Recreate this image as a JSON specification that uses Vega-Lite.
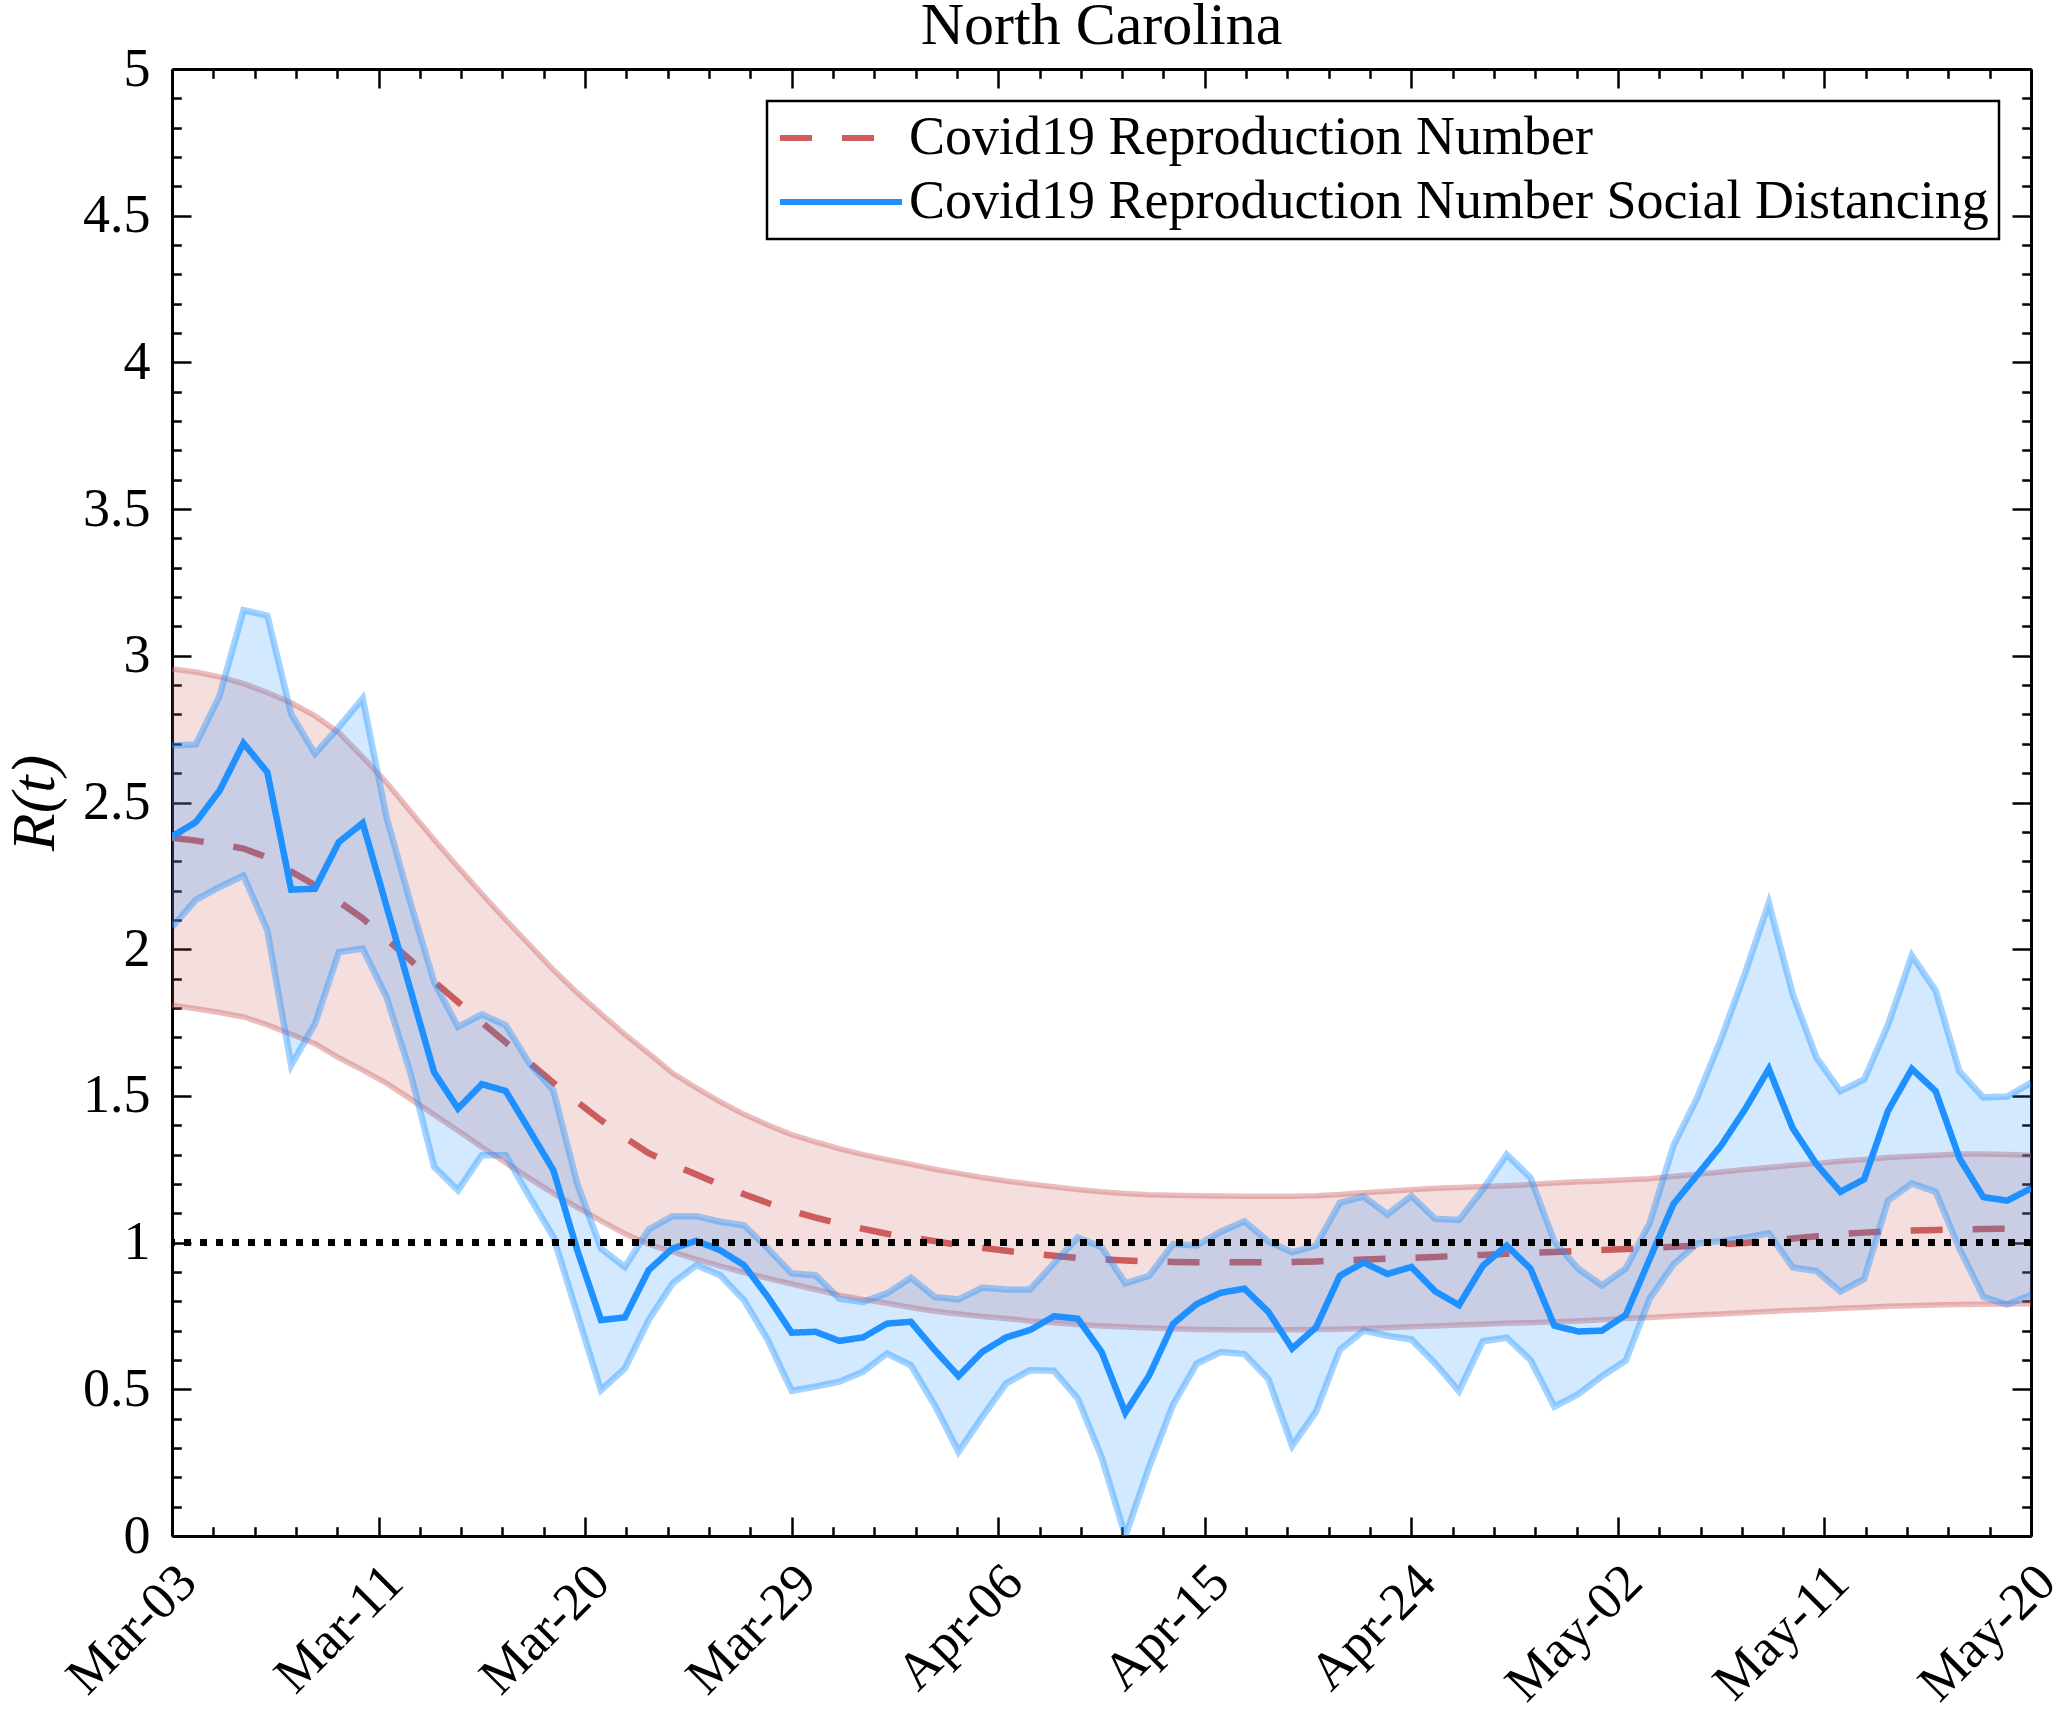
{
  "$schema": "https://vega.github.io/schema/vega-lite/v6.json",
  "width": 1859,
  "height": 1467,
  "autosize": {"type": "none"},
  "padding": {"left": 172, "top": 69, "right": 28, "bottom": 181},
  "background": "white",
  "title": {"text": "North Carolina", "font": "Liberation Serif", "fontSize": 60, "fontWeight": "normal", "color": "black", "anchor": "middle", "offset": -15},
  "data": {"values": [
    {"date": "2020-03-03", "r": 2.38, "r_lo": 1.809, "r_hi": 2.955, "sd": 2.384, "sd_lo": 2.075, "sd_hi": 2.694},
    {"date": "2020-03-04", "r": 2.37, "r_lo": 1.797, "r_hi": 2.945, "sd": 2.433, "sd_lo": 2.168, "sd_hi": 2.698},
    {"date": "2020-03-05", "r": 2.357, "r_lo": 1.784, "r_hi": 2.928, "sd": 2.541, "sd_lo": 2.212, "sd_hi": 2.864},
    {"date": "2020-03-06", "r": 2.343, "r_lo": 1.769, "r_hi": 2.905, "sd": 2.702, "sd_lo": 2.251, "sd_hi": 3.156},
    {"date": "2020-03-07", "r": 2.313, "r_lo": 1.742, "r_hi": 2.875, "sd": 2.603, "sd_lo": 2.064, "sd_hi": 3.137},
    {"date": "2020-03-08", "r": 2.265, "r_lo": 1.71, "r_hi": 2.84, "sd": 2.203, "sd_lo": 1.604, "sd_hi": 2.802},
    {"date": "2020-03-09", "r": 2.218, "r_lo": 1.678, "r_hi": 2.795, "sd": 2.206, "sd_lo": 1.746, "sd_hi": 2.666},
    {"date": "2020-03-10", "r": 2.162, "r_lo": 1.63, "r_hi": 2.738, "sd": 2.365, "sd_lo": 1.99, "sd_hi": 2.757},
    {"date": "2020-03-11", "r": 2.105, "r_lo": 1.588, "r_hi": 2.655, "sd": 2.43, "sd_lo": 2.002, "sd_hi": 2.855},
    {"date": "2020-03-12", "r": 2.035, "r_lo": 1.543, "r_hi": 2.568, "sd": 2.147, "sd_lo": 1.837, "sd_hi": 2.45},
    {"date": "2020-03-13", "r": 1.963, "r_lo": 1.49, "r_hi": 2.47, "sd": 1.863, "sd_lo": 1.58, "sd_hi": 2.16},
    {"date": "2020-03-14", "r": 1.89, "r_lo": 1.436, "r_hi": 2.373, "sd": 1.58, "sd_lo": 1.258, "sd_hi": 1.888},
    {"date": "2020-03-15", "r": 1.82, "r_lo": 1.381, "r_hi": 2.28, "sd": 1.457, "sd_lo": 1.178, "sd_hi": 1.735},
    {"date": "2020-03-16", "r": 1.75, "r_lo": 1.326, "r_hi": 2.189, "sd": 1.54, "sd_lo": 1.298, "sd_hi": 1.778},
    {"date": "2020-03-17", "r": 1.683, "r_lo": 1.272, "r_hi": 2.1, "sd": 1.517, "sd_lo": 1.298, "sd_hi": 1.741},
    {"date": "2020-03-18", "r": 1.613, "r_lo": 1.219, "r_hi": 2.015, "sd": 1.383, "sd_lo": 1.156, "sd_hi": 1.61},
    {"date": "2020-03-19", "r": 1.545, "r_lo": 1.168, "r_hi": 1.93, "sd": 1.247, "sd_lo": 1.02, "sd_hi": 1.519},
    {"date": "2020-03-20", "r": 1.48, "r_lo": 1.12, "r_hi": 1.852, "sd": 0.975, "sd_lo": 0.758, "sd_hi": 1.201},
    {"date": "2020-03-21", "r": 1.417, "r_lo": 1.074, "r_hi": 1.78, "sd": 0.736, "sd_lo": 0.497, "sd_hi": 0.98},
    {"date": "2020-03-22", "r": 1.358, "r_lo": 1.03, "r_hi": 1.71, "sd": 0.745, "sd_lo": 0.571, "sd_hi": 0.917},
    {"date": "2020-03-23", "r": 1.305, "r_lo": 0.995, "r_hi": 1.645, "sd": 0.906, "sd_lo": 0.736, "sd_hi": 1.045},
    {"date": "2020-03-24", "r": 1.267, "r_lo": 0.968, "r_hi": 1.578, "sd": 0.98, "sd_lo": 0.861, "sd_hi": 1.09},
    {"date": "2020-03-25", "r": 1.232, "r_lo": 0.943, "r_hi": 1.527, "sd": 1.006, "sd_lo": 0.923, "sd_hi": 1.09},
    {"date": "2020-03-26", "r": 1.198, "r_lo": 0.92, "r_hi": 1.48, "sd": 0.974, "sd_lo": 0.889, "sd_hi": 1.071},
    {"date": "2020-03-27", "r": 1.165, "r_lo": 0.898, "r_hi": 1.437, "sd": 0.923, "sd_lo": 0.804, "sd_hi": 1.059},
    {"date": "2020-03-28", "r": 1.135, "r_lo": 0.878, "r_hi": 1.401, "sd": 0.815, "sd_lo": 0.668, "sd_hi": 0.98},
    {"date": "2020-03-29", "r": 1.108, "r_lo": 0.859, "r_hi": 1.368, "sd": 0.693, "sd_lo": 0.495, "sd_hi": 0.895},
    {"date": "2020-03-30", "r": 1.085, "r_lo": 0.84, "r_hi": 1.343, "sd": 0.696, "sd_lo": 0.509, "sd_hi": 0.889},
    {"date": "2020-03-31", "r": 1.065, "r_lo": 0.821, "r_hi": 1.32, "sd": 0.665, "sd_lo": 0.526, "sd_hi": 0.809},
    {"date": "2020-04-01", "r": 1.047, "r_lo": 0.806, "r_hi": 1.3, "sd": 0.677, "sd_lo": 0.56, "sd_hi": 0.798},
    {"date": "2020-04-02", "r": 1.03, "r_lo": 0.793, "r_hi": 1.283, "sd": 0.724, "sd_lo": 0.622, "sd_hi": 0.827},
    {"date": "2020-04-03", "r": 1.017, "r_lo": 0.779, "r_hi": 1.267, "sd": 0.73, "sd_lo": 0.582, "sd_hi": 0.88},
    {"date": "2020-04-04", "r": 1.005, "r_lo": 0.766, "r_hi": 1.25, "sd": 0.634, "sd_lo": 0.446, "sd_hi": 0.815},
    {"date": "2020-04-05", "r": 0.992, "r_lo": 0.757, "r_hi": 1.236, "sd": 0.545, "sd_lo": 0.287, "sd_hi": 0.806},
    {"date": "2020-04-06", "r": 0.982, "r_lo": 0.748, "r_hi": 1.222, "sd": 0.628, "sd_lo": 0.406, "sd_hi": 0.847},
    {"date": "2020-04-07", "r": 0.972, "r_lo": 0.741, "r_hi": 1.21, "sd": 0.677, "sd_lo": 0.52, "sd_hi": 0.84},
    {"date": "2020-04-08", "r": 0.963, "r_lo": 0.733, "r_hi": 1.2, "sd": 0.702, "sd_lo": 0.565, "sd_hi": 0.84},
    {"date": "2020-04-09", "r": 0.955, "r_lo": 0.727, "r_hi": 1.19, "sd": 0.749, "sd_lo": 0.563, "sd_hi": 0.929},
    {"date": "2020-04-10", "r": 0.948, "r_lo": 0.721, "r_hi": 1.181, "sd": 0.741, "sd_lo": 0.469, "sd_hi": 1.017},
    {"date": "2020-04-11", "r": 0.943, "r_lo": 0.716, "r_hi": 1.173, "sd": 0.628, "sd_lo": 0.27, "sd_hi": 0.985},
    {"date": "2020-04-12", "r": 0.939, "r_lo": 0.712, "r_hi": 1.167, "sd": 0.42, "sd_lo": 0.0, "sd_hi": 0.861},
    {"date": "2020-04-13", "r": 0.936, "r_lo": 0.709, "r_hi": 1.163, "sd": 0.547, "sd_lo": 0.236, "sd_hi": 0.887},
    {"date": "2020-04-14", "r": 0.934, "r_lo": 0.706, "r_hi": 1.161, "sd": 0.723, "sd_lo": 0.447, "sd_hi": 0.995},
    {"date": "2020-04-15", "r": 0.933, "r_lo": 0.704, "r_hi": 1.16, "sd": 0.791, "sd_lo": 0.588, "sd_hi": 0.99},
    {"date": "2020-04-16", "r": 0.933, "r_lo": 0.703, "r_hi": 1.159, "sd": 0.829, "sd_lo": 0.627, "sd_hi": 1.037},
    {"date": "2020-04-17", "r": 0.933, "r_lo": 0.702, "r_hi": 1.158, "sd": 0.843, "sd_lo": 0.62, "sd_hi": 1.073},
    {"date": "2020-04-18", "r": 0.933, "r_lo": 0.702, "r_hi": 1.158, "sd": 0.764, "sd_lo": 0.535, "sd_hi": 1.004},
    {"date": "2020-04-19", "r": 0.934, "r_lo": 0.703, "r_hi": 1.158, "sd": 0.639, "sd_lo": 0.307, "sd_hi": 0.967},
    {"date": "2020-04-20", "r": 0.936, "r_lo": 0.704, "r_hi": 1.16, "sd": 0.711, "sd_lo": 0.424, "sd_hi": 0.99},
    {"date": "2020-04-21", "r": 0.939, "r_lo": 0.705, "r_hi": 1.164, "sd": 0.887, "sd_lo": 0.635, "sd_hi": 1.136},
    {"date": "2020-04-22", "r": 0.942, "r_lo": 0.707, "r_hi": 1.17, "sd": 0.932, "sd_lo": 0.7, "sd_hi": 1.157},
    {"date": "2020-04-23", "r": 0.945, "r_lo": 0.71, "r_hi": 1.175, "sd": 0.893, "sd_lo": 0.682, "sd_hi": 1.096},
    {"date": "2020-04-24", "r": 0.948, "r_lo": 0.713, "r_hi": 1.18, "sd": 0.917, "sd_lo": 0.67, "sd_hi": 1.159},
    {"date": "2020-04-25", "r": 0.951, "r_lo": 0.716, "r_hi": 1.185, "sd": 0.834, "sd_lo": 0.588, "sd_hi": 1.081},
    {"date": "2020-04-26", "r": 0.955, "r_lo": 0.719, "r_hi": 1.188, "sd": 0.787, "sd_lo": 0.494, "sd_hi": 1.077},
    {"date": "2020-04-27", "r": 0.958, "r_lo": 0.722, "r_hi": 1.191, "sd": 0.921, "sd_lo": 0.664, "sd_hi": 1.181},
    {"date": "2020-04-28", "r": 0.962, "r_lo": 0.725, "r_hi": 1.194, "sd": 0.99, "sd_lo": 0.676, "sd_hi": 1.3},
    {"date": "2020-04-29", "r": 0.965, "r_lo": 0.727, "r_hi": 1.198, "sd": 0.911, "sd_lo": 0.6, "sd_hi": 1.221},
    {"date": "2020-04-30", "r": 0.968, "r_lo": 0.73, "r_hi": 1.203, "sd": 0.717, "sd_lo": 0.441, "sd_hi": 1.004},
    {"date": "2020-05-01", "r": 0.971, "r_lo": 0.733, "r_hi": 1.207, "sd": 0.697, "sd_lo": 0.483, "sd_hi": 0.911},
    {"date": "2020-05-02", "r": 0.975, "r_lo": 0.737, "r_hi": 1.21, "sd": 0.7, "sd_lo": 0.545, "sd_hi": 0.854},
    {"date": "2020-05-03", "r": 0.978, "r_lo": 0.741, "r_hi": 1.214, "sd": 0.754, "sd_lo": 0.598, "sd_hi": 0.912},
    {"date": "2020-05-04", "r": 0.982, "r_lo": 0.745, "r_hi": 1.218, "sd": 0.944, "sd_lo": 0.809, "sd_hi": 1.067},
    {"date": "2020-05-05", "r": 0.986, "r_lo": 0.749, "r_hi": 1.226, "sd": 1.132, "sd_lo": 0.926, "sd_hi": 1.331},
    {"date": "2020-05-06", "r": 0.99, "r_lo": 0.753, "r_hi": 1.233, "sd": 1.231, "sd_lo": 0.997, "sd_hi": 1.495},
    {"date": "2020-05-07", "r": 0.994, "r_lo": 0.757, "r_hi": 1.241, "sd": 1.331, "sd_lo": 1.005, "sd_hi": 1.695},
    {"date": "2020-05-08", "r": 0.999, "r_lo": 0.761, "r_hi": 1.249, "sd": 1.454, "sd_lo": 1.017, "sd_hi": 1.918},
    {"date": "2020-05-09", "r": 1.006, "r_lo": 0.765, "r_hi": 1.256, "sd": 1.592, "sd_lo": 1.032, "sd_hi": 2.158},
    {"date": "2020-05-10", "r": 1.014, "r_lo": 0.769, "r_hi": 1.264, "sd": 1.39, "sd_lo": 0.915, "sd_hi": 1.847},
    {"date": "2020-05-11", "r": 1.022, "r_lo": 0.772, "r_hi": 1.27, "sd": 1.267, "sd_lo": 0.903, "sd_hi": 1.63},
    {"date": "2020-05-12", "r": 1.029, "r_lo": 0.776, "r_hi": 1.277, "sd": 1.173, "sd_lo": 0.833, "sd_hi": 1.516},
    {"date": "2020-05-13", "r": 1.034, "r_lo": 0.779, "r_hi": 1.283, "sd": 1.216, "sd_lo": 0.876, "sd_hi": 1.556},
    {"date": "2020-05-14", "r": 1.038, "r_lo": 0.783, "r_hi": 1.29, "sd": 1.449, "sd_lo": 1.143, "sd_hi": 1.742},
    {"date": "2020-05-15", "r": 1.041, "r_lo": 0.785, "r_hi": 1.294, "sd": 1.592, "sd_lo": 1.202, "sd_hi": 1.979},
    {"date": "2020-05-16", "r": 1.043, "r_lo": 0.787, "r_hi": 1.298, "sd": 1.516, "sd_lo": 1.173, "sd_hi": 1.859},
    {"date": "2020-05-17", "r": 1.045, "r_lo": 0.789, "r_hi": 1.302, "sd": 1.287, "sd_lo": 0.979, "sd_hi": 1.583},
    {"date": "2020-05-18", "r": 1.046, "r_lo": 0.79, "r_hi": 1.302, "sd": 1.155, "sd_lo": 0.815, "sd_hi": 1.495},
    {"date": "2020-05-19", "r": 1.047, "r_lo": 0.791, "r_hi": 1.3, "sd": 1.143, "sd_lo": 0.789, "sd_hi": 1.498},
    {"date": "2020-05-20", "r": 1.048, "r_lo": 0.792, "r_hi": 1.298, "sd": 1.185, "sd_lo": 0.821, "sd_hi": 1.545}
  ]},
  "resolve": {"axis": {"x": "independent", "y": "independent"}},
  "config": {
    "view": {"stroke": null},
    "axis": {"grid": false, "tickColor": "black", "domainColor": "black", "tickWidth": 2.5, "domainWidth": 3, "zindex": 1, "labelFont": "Liberation Serif", "labelColor": "black", "labelFontSize": 54, "titleFont": "Liberation Serif", "titleColor": "black", "labelFlush": false, "labelOverlap": false},
    "legend": {"strokeWidth": 2.5}
  },
  "layer": [
    {
      "mark": {"type": "area", "color": "#CD5C5C", "opacity": 0.2, "clip": true},
      "encoding": {
        "x": {"field": "date", "type": "temporal",
          "scale": {"type": "utc", "domain": [1583193600000, 1589932800000], "nice": false},
          "axis": {"orient": "bottom", "title": null, "values": [1583193600000, 1583942400000, 1584691200000, 1585440000000, 1586188800000, 1586937600000, 1587686400000, 1588435200000, 1589184000000, 1589932800000],
            "labelExpr": "utcFormat(datum.value, '%b-%d')", "labelAngle": -45, "labelAlign": "right", "labelBaseline": "top", "labelOffset": -3, "labelPadding": 38, "labelFontSize": 53, "tickSize": -19, "domain": true}},
        "y": {"field": "r_lo", "type": "quantitative",
          "scale": {"domain": [0, 5], "nice": false, "zero": false},
          "axis": {"orient": "left", "values": [0, 0.5, 1, 1.5, 2, 2.5, 3, 3.5, 4, 4.5, 5], "format": "~g", "labelPadding": 41, "tickSize": -19, "domain": true,
            "title": "R(t)", "titleFontSize": 62, "titleFontStyle": "italic", "titleFontWeight": "normal", "titlePadding": 16}},
        "y2": {"field": "r_hi"}
      }
    },
    {
      "mark": {"type": "line", "color": "#CD5C5C", "opacity": 0.4, "strokeWidth": 5.5, "clip": true},
      "encoding": {
        "x": {"field": "date", "type": "temporal",
          "axis": {"orient": "bottom", "title": null, "labels": false, "domain": false, "tickSize": -9.3,
            "values": [1583343360000, 1583493120000, 1583642880000, 1583792640000, 1584092160000, 1584241920000, 1584391680000, 1584541440000, 1584840960000, 1584990720000, 1585140480000, 1585290240000, 1585589760000, 1585739520000, 1585889280000, 1586039040000, 1586338560000, 1586488320000, 1586638080000, 1586787840000, 1587087360000, 1587237120000, 1587386880000, 1587536640000, 1587836160000, 1587985920000, 1588135680000, 1588285440000, 1588584960000, 1588734720000, 1588884480000, 1589034240000, 1589333760000, 1589483520000, 1589633280000, 1589783040000]}},
        "y": {"field": "r_hi", "type": "quantitative",
          "axis": {"orient": "left", "title": null, "labels": false, "domain": false, "tickSize": -9.3,
            "values": [0.1, 0.2, 0.3, 0.4, 0.6, 0.7, 0.8, 0.9, 1.1, 1.2, 1.3, 1.4, 1.6, 1.7, 1.8, 1.9, 2.1, 2.2, 2.3, 2.4, 2.6, 2.7, 2.8, 2.9, 3.1, 3.2, 3.3, 3.4, 3.6, 3.7, 3.8, 3.9, 4.1, 4.2, 4.3, 4.4, 4.6, 4.7, 4.8, 4.9]}}
      }
    },
    {
      "mark": {"type": "line", "color": "#CD5C5C", "opacity": 0.4, "strokeWidth": 5.5, "clip": true},
      "encoding": {
        "x": {"field": "date", "type": "temporal",
          "axis": {"orient": "top", "title": null, "labels": false, "domain": true, "tickSize": -19,
            "values": [1583193600000, 1583942400000, 1584691200000, 1585440000000, 1586188800000, 1586937600000, 1587686400000, 1588435200000, 1589184000000, 1589932800000]}},
        "y": {"field": "r_lo", "type": "quantitative",
          "axis": {"orient": "right", "title": null, "labels": false, "domain": true, "tickSize": -19,
            "values": [0, 0.5, 1, 1.5, 2, 2.5, 3, 3.5, 4, 4.5, 5]}}
      }
    },
    {
      "mark": {"type": "line", "strokeWidth": 6.5, "clip": true},
      "encoding": {
        "x": {"field": "date", "type": "temporal",
          "axis": {"orient": "top", "title": null, "labels": false, "domain": false, "tickSize": -9.3,
            "values": [1583343360000, 1583493120000, 1583642880000, 1583792640000, 1584092160000, 1584241920000, 1584391680000, 1584541440000, 1584840960000, 1584990720000, 1585140480000, 1585290240000, 1585589760000, 1585739520000, 1585889280000, 1586039040000, 1586338560000, 1586488320000, 1586638080000, 1586787840000, 1587087360000, 1587237120000, 1587386880000, 1587536640000, 1587836160000, 1587985920000, 1588135680000, 1588285440000, 1588584960000, 1588734720000, 1588884480000, 1589034240000, 1589333760000, 1589483520000, 1589633280000, 1589783040000]}},
        "y": {"field": "r", "type": "quantitative",
          "axis": {"orient": "right", "title": null, "labels": false, "domain": false, "tickSize": -9.3,
            "values": [0.1, 0.2, 0.3, 0.4, 0.6, 0.7, 0.8, 0.9, 1.1, 1.2, 1.3, 1.4, 1.6, 1.7, 1.8, 1.9, 2.1, 2.2, 2.3, 2.4, 2.6, 2.7, 2.8, 2.9, 3.1, 3.2, 3.3, 3.4, 3.6, 3.7, 3.8, 3.9, 4.1, 4.2, 4.3, 4.4, 4.6, 4.7, 4.8, 4.9]}},
        "color": {"datum": "Covid19 Reproduction Number",
          "scale": {"domain": ["Covid19 Reproduction Number", "Covid19 Reproduction Number Social Distancing"], "range": ["#CD5C5C", "#1E90FF"]},
          "legend": {"orient": "top-right", "offset": 32, "title": null, "labelFont": "Liberation Serif", "labelFontSize": 54, "labelColor": "black", "labelLimit": 3000, "labelOffset": 4, "symbolType": "stroke", "symbolSize": 14884, "symbolStrokeWidth": 6, "padding": 10, "rowPadding": 10, "clipHeight": 54, "fillColor": "white", "strokeColor": "black", "zindex": 2}},
        "strokeDash": {"datum": "Covid19 Reproduction Number",
          "scale": {"domain": ["Covid19 Reproduction Number", "Covid19 Reproduction Number Social Distancing"], "range": [[32, 30], [1, 0]]},
          "legend": {"orient": "top-right", "offset": 32, "title": null, "labelFont": "Liberation Serif", "labelFontSize": 54, "labelColor": "black", "labelLimit": 3000, "labelOffset": 4, "symbolType": "stroke", "symbolSize": 14884, "symbolStrokeWidth": 6, "padding": 10, "rowPadding": 10, "clipHeight": 54, "fillColor": "white", "strokeColor": "black", "zindex": 2}}
      }
    },
    {
      "mark": {"type": "area", "color": "#1E90FF", "opacity": 0.2, "clip": true},
      "encoding": {
        "x": {"field": "date", "type": "temporal", "axis": null},
        "y": {"field": "sd_lo", "type": "quantitative", "axis": null},
        "y2": {"field": "sd_hi"}
      }
    },
    {
      "mark": {"type": "line", "color": "#1E90FF", "opacity": 0.4, "strokeWidth": 6.5, "clip": true},
      "encoding": {
        "x": {"field": "date", "type": "temporal", "axis": null},
        "y": {"field": "sd_hi", "type": "quantitative", "axis": null}
      }
    },
    {
      "mark": {"type": "line", "color": "#1E90FF", "opacity": 0.4, "strokeWidth": 6.5, "clip": true},
      "encoding": {
        "x": {"field": "date", "type": "temporal", "axis": null},
        "y": {"field": "sd_lo", "type": "quantitative", "axis": null}
      }
    },
    {
      "mark": {"type": "line", "strokeWidth": 6.5, "clip": true},
      "encoding": {
        "x": {"field": "date", "type": "temporal", "axis": null},
        "y": {"field": "sd", "type": "quantitative", "axis": null},
        "color": {"datum": "Covid19 Reproduction Number Social Distancing"},
        "strokeDash": {"datum": "Covid19 Reproduction Number Social Distancing"}
      }
    },
    {
      "mark": {"type": "rule", "color": "black", "strokeWidth": 7, "strokeDash": [7, 9]},
      "encoding": {
        "y": {"datum": 1, "type": "quantitative", "axis": null}
      }
    }
  ]
}
